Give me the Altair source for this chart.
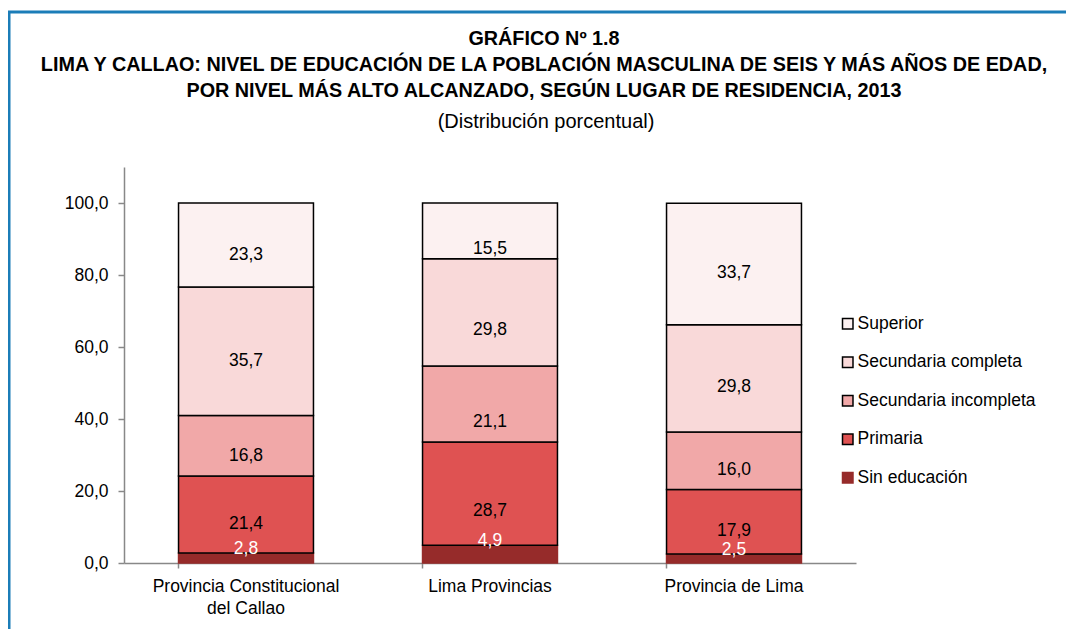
import altair as alt
import pandas as pd

FONT = "Liberation Sans"

lugares = ["Provincia Constitucional del Callao", "Lima Provincias", "Provincia de Lima"]
niveles = ["Sin educación", "Primaria", "Secundaria incompleta", "Secundaria completa", "Superior"]
sin_educacion = [2.8, 4.9, 2.5]
primaria = [21.4, 28.7, 17.9]
sec_incompleta = [16.8, 21.1, 16.0]
sec_completa = [35.7, 29.8, 29.8]
superior = [23.3, 15.5, 33.7]
colores = ["#962B2A", "#DF5252", "#F1A8A8", "#F9D9D9", "#FCF1F1"]
bordes = ["#962B2A", "black", "black", "black", "black"]
y_ticks = [0, 20, 40, 60, 80, 100]

titulo = [
    "GRÁFICO Nº 1.8",
    "LIMA Y CALLAO: NIVEL DE EDUCACIÓN DE LA POBLACIÓN MASCULINA DE SEIS Y MÁS AÑOS DE EDAD,",
    "POR NIVEL MÁS ALTO ALCANZADO, SEGÚN LUGAR DE RESIDENCIA, 2013",
]
subtitulo = "(Distribución porcentual)"

series = [sin_educacion, primaria, sec_incompleta, sec_completa, superior]
rows = []
for k, (nivel, vals) in enumerate(zip(niveles, series)):
    for lugar, v in zip(lugares, vals):
        rows.append({"lugar": lugar, "nivel": nivel, "valor": v, "orden": k,
                     "etiqueta": f"{v:.1f}".replace(".", ",")})
df = pd.DataFrame(rows)

W, H = 732, 396
PAD = {"left": 116, "top": 159, "right": 210, "bottom": 66}
TX = 420  # horizontal centre of the title, in plot coordinates
FS = 17.5

legend_order = niveles[::-1]
legend_colors = colores[::-1]
legend_bordes = bordes[::-1]

base = alt.Chart(df)

x_enc = alt.X("lugar:N", sort=lugares, title=None,
              scale=alt.Scale(paddingInner=0.447, paddingOuter=0.2235),
              axis=alt.Axis(labelAngle=0, ticks=True, bandPosition=0, tickSize=5, tickWidth=1.5,
                            tickColor="#888888", domainColor="#888888", domainWidth=1.5,
                            labelFontSize=FS, labelFont=FONT, labelColor="black", labelPadding=9,
                            labelLineHeight=22, labelLimit=400,
                            labelExpr="datum.label == 'Provincia Constitucional del Callao' ? ['Provincia Constitucional', 'del Callao'] : datum.label"))

leg = alt.Legend(title=None, orient="none", legendX=715, legendY=148,
                 symbolType="square", symbolSize=110, symbolStrokeWidth=1.5,
                 symbolOpacity=1, labelFontSize=FS, labelFont=FONT, labelLimit=300,
                 labelColor="black", labelOffset=1, rowPadding=19.5, padding=0)

bars = base.mark_bar(strokeWidth=1.5).encode(
    x=x_enc,
    y=alt.Y("valor:Q", stack="zero", title=None,
            scale=alt.Scale(domain=[0, 110], nice=False),
            axis=alt.Axis(values=y_ticks, grid=False, domainColor="#888888", domainWidth=1.5,
                          tickColor="#888888", tickSize=6, tickWidth=1.5,
                          labelFontSize=FS, labelFont=FONT, labelColor="black", labelPadding=10,
                          labelExpr="replace(format(datum.value, '.1f'), '.', ',')")),
    color=alt.Color("nivel:N", scale=alt.Scale(domain=legend_order, range=legend_colors), legend=leg),
    stroke=alt.Stroke("nivel:N", scale=alt.Scale(domain=legend_order, range=legend_bordes), legend=leg),
    order=alt.Order("orden:Q", sort="ascending"),
)

labels = base.transform_filter(alt.datum.nivel != "Sin educación").transform_stack(
    stack="valor", groupby=["lugar"], sort=[alt.SortField("orden", order="ascending")],
    as_=["y0", "y1"]
).transform_calculate(mid="(datum.y0 + datum.y1) / 2").mark_text(
    fontSize=FS, font=FONT, color="black", baseline="middle"
).encode(x=alt.X("lugar:N", sort=lugares), y=alt.Y("mid:Q"), text="etiqueta:N")

labels_sin = base.transform_filter(alt.datum.nivel == "Sin educación").mark_text(
    fontSize=FS, font=FONT, color="white", baseline="middle", dy=-4
).encode(x=alt.X("lugar:N", sort=lugares), y=alt.Y("valor:Q"), text="etiqueta:N")

one = pd.DataFrame({"a": [0]})
border_top = alt.Chart(one).mark_rule(color="#1B7DB8", strokeWidth=3).encode(
    x=alt.value(-116), x2=alt.value(W + PAD["right"]), y=alt.value(-155))
border_left = alt.Chart(one).mark_rule(color="#1B7DB8", strokeWidth=3).encode(
    x=alt.value(-115), y=alt.value(-156), y2=alt.value(H + PAD["bottom"]))

title_layers = []
for txt, ypos in zip(titulo, [-122, -96, -70]):
    title_layers.append(
        alt.Chart(pd.DataFrame({"t": [txt]})).mark_text(
            font=FONT, fontSize=19.8, fontWeight="bold", color="black", align="center",
            baseline="alphabetic"
        ).encode(x=alt.value(TX), y=alt.value(ypos), text="t:N")
    )
title_layers.append(
    alt.Chart(pd.DataFrame({"t": [subtitulo]})).mark_text(
        font=FONT, fontSize=20, color="black", align="center", baseline="alphabetic"
    ).encode(x=alt.value(TX + 2), y=alt.value(-39), text="t:N")
)

chart = alt.layer(bars, labels, labels_sin, border_top, border_left, *title_layers).properties(
    width=W, height=H,
    padding=PAD,
    autosize=alt.AutoSizeParams(type="none"),
).configure(background="white", view=alt.ViewConfig(stroke=None))

chart.save("out.html", embed_options={"renderer": "svg", "actions": False})
